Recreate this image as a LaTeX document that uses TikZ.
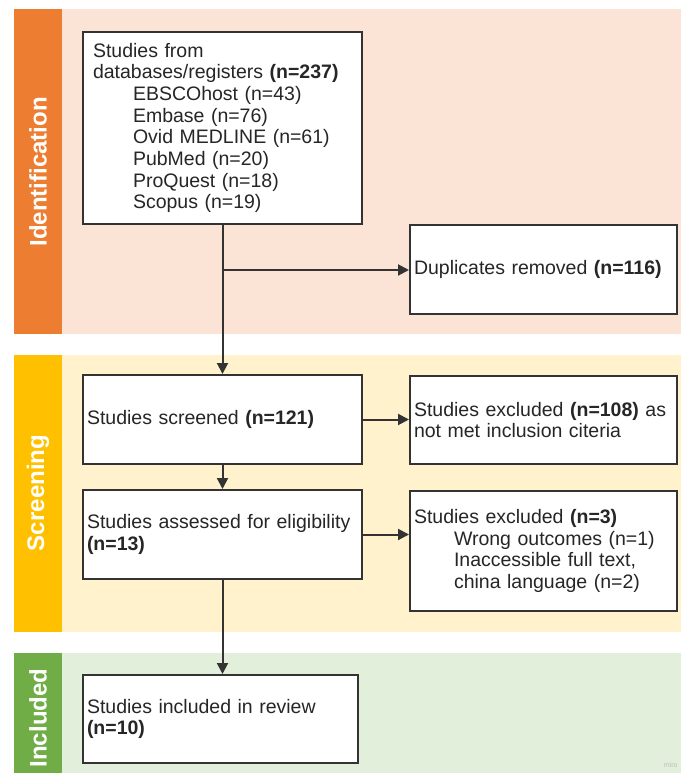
\documentclass[tikz,border=0pt]{standalone}
\usepackage{fontspec}
\setmainfont{Liberation Sans}
\usetikzlibrary{positioning,calc,arrows.meta}
\definecolor{idstrip}{HTML}{ED7D31}
\definecolor{idband}{HTML}{FBE4D6}
\definecolor{scrstrip}{HTML}{FFC000}
\definecolor{scrband}{HTML}{FFF2CC}
\definecolor{incstrip}{HTML}{70AD47}
\definecolor{incband}{HTML}{E2EFDA}
\definecolor{linec}{HTML}{333333}
\definecolor{textc}{HTML}{262626}
\newcommand*{\boxfont}{\fontsize{19.5}{21.7}\selectfont}
\newcommand*{\ind}{\hspace*{40pt}}
\tikzset{
  box/.style={draw=linec,line width=2pt,fill=white,anchor=north west,
              align=left,inner xsep=4pt,inner ysep=0pt,font=\boxfont,text=textc},
  phase/.style={rotate=90,text=white,font=\fontsize{24}{24}\selectfont\bfseries},
  arr/.style={draw=linec,line width=2pt,-{Triangle[length=11pt,width=11pt]}}
}

\begin{document}
\begin{tikzpicture}[x=1pt,y=-1pt]
\useasboundingbox (0,0) rectangle (681,773);
% Phase bands, light part and coloured strip
\fill[idband] (62,9) rectangle (681,334);
\fill[idstrip] (14,9) rectangle (62,334);
\fill[scrband] (62,355) rectangle (681,632);
\fill[scrstrip] (14,355) rectangle (62,632);
\fill[incband] (62,653) rectangle (681,773);
\fill[incstrip] (14,653) rectangle (62,773);
% Phase names
\node[phase] (idlabel) at (38,172) {Identification};
\node[phase] (scrlabel) at (38,493) {Screening};
\node[phase] (inclabel) at (38,718) {Included};
% Boxes of the first column
\node[box,inner xsep=10pt,text width=259pt,minimum height=192pt] (sources) at (82,31)
  {Studies from\\
   databases/registers \textbf{(n=237)}\\
   \ind EBSCOhost (n=43)\\
   \ind Embase (n=76)\\
   \ind Ovid MEDLINE (n=61)\\
   \ind PubMed (n=20)\\
   \ind ProQuest (n=18)\\
   \ind Scopus (n=19)};
\node[box,text width=271pt,minimum height=89pt] (screened) at (82,374)
  {Studies screened \textbf{(n=121)}};
\node[box,text width=271pt,minimum height=89pt] (assessed) at (82,489)
  {Studies assessed for eligibility\\\textbf{(n=13)}};
\node[box,text width=267pt,minimum height=88pt] (included) at (82,674)
  {Studies included in review\\\textbf{(n=10)}};
% Boxes of the second column
\node[box,text width=259pt,minimum height=89pt] (duplicates) at (409,224)
  {Duplicates removed \textbf{(n=116)}};
\node[box,text width=259pt,minimum height=88pt] (excluded) at (409,375)
  {Studies excluded \textbf{(n=108)} as\\not met inclusion citeria};
\node[box,text width=259pt,minimum height=120pt] (removed) at (409,490)
  {Studies excluded \textbf{(n=3)}\\
   \ind Wrong outcomes (n=1)\\
   \ind Inaccessible full text,\\
   \ind china language (n=2)};
% Connectors
\coordinate (split) at ($(sources.south)+(0,45)$);
\draw[arr] (sources.south) -- (screened.north);
\draw[arr] (split) -- (split -| duplicates.west);
\draw[arr] (screened.east) -- (screened.east -| excluded.west);
\draw[arr] (screened.south) -- (assessed.north);
\draw[arr] (assessed.east) -- (assessed.east -| removed.west);
\draw[arr] (assessed.south) -- (assessed.south |- included.north);
% Watermark
\node[text=black!25,font=\fontsize{7}{7}\selectfont,anchor=south east] (miro) at (681,771) {miro};
\end{tikzpicture}
\end{document}
